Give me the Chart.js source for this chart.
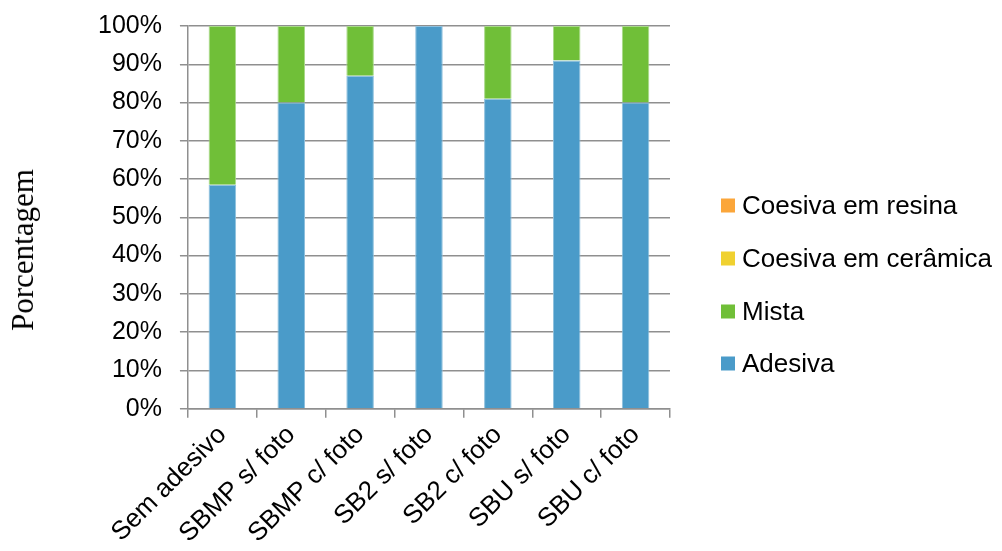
<!DOCTYPE html>
<html>
<head>
<meta charset="utf-8">
<script src="https://cdn.jsdelivr.net/npm/chart.js@4"></script>
<style>
  html, body { margin: 0; padding: 0; background: #fff; }
  #wrap { position: relative; width: 1002px; height: 551px; overflow: hidden; }
  #failure-chart { position: absolute; left: 0; top: -7px; }
  #y-title {
    position: absolute; left: 23px; top: 250px;
    transform: translate(-50%, -50%) rotate(-90deg);
    font-family: "Liberation Serif", serif; font-size: 31px; color: #000;
    white-space: nowrap;
  }
  #legend { position: absolute; left: 721px; top: 0; margin: 0; padding: 0; list-style: none;
    font-family: "Liberation Sans", Arial, sans-serif; font-size: 26px; color: #000; }
  #legend li { position: absolute; left: 0; white-space: nowrap; display: flex; align-items: center; transform: translateY(-50%); }
  #legend span.box { display: inline-block; width: 14px; height: 14px; margin-right: 7px; }
</style>
</head>
<body>
<div id="wrap">
  <canvas id="failure-chart" width="1002" height="558"></canvas>
  <div id="y-title">Porcentagem</div>
  <ul id="legend"></ul>
</div>
<script>
// Data
const groups = ['Sem adesivo', 'SBMP s/ foto', 'SBMP c/ foto', 'SB2 s/ foto', 'SB2 c/ foto', 'SBU s/ foto', 'SBU c/ foto'];
const adesiva = [58.5, 80, 87, 100, 81, 91, 80];
const mista = [41.5, 20, 13, 0, 19, 9, 20];
const coesivaCeramica = [0, 0, 0, 0, 0, 0, 0];
const coesivaResina = [0, 0, 0, 0, 0, 0, 0];
const yTicks = [0, 10, 20, 30, 40, 50, 60, 70, 80, 90, 100];

const font = { family: '"Liberation Sans", Arial, sans-serif', size: 25 };
const xFont = { family: '"Liberation Sans", Arial, sans-serif', size: 26 };
const gridGray = '#8f8f8f';

const ctx = document.getElementById('failure-chart').getContext('2d');

const failureChart = new Chart(ctx, {
  type: 'bar',
  data: {
    labels: groups,
    datasets: [
      { label: 'Adesiva', data: adesiva, backgroundColor: '#4a9bc9', borderColor: '#8ec0dd', borderWidth: 1 },
      { label: 'Mista', data: mista, backgroundColor: '#70bf38', borderColor: '#a9d98a', borderWidth: 1 },
      { label: 'Coesiva em cerâmica', data: coesivaCeramica, backgroundColor: '#f0d130', borderWidth: 0 },
      { label: 'Coesiva em resina', data: coesivaResina, backgroundColor: '#fba63a', borderWidth: 0 }
    ]
  },
  options: {
    responsive: false,
    animation: false,
    layout: { padding: { left: 80, top: 4, right: 332, bottom: 0 } },
    datasets: { bar: { barPercentage: 0.4, categoryPercentage: 1 } },
    scales: {
      x: {
        stacked: true,
        grid: { offset: true, drawOnChartArea: false, color: gridGray, lineWidth: 1.5, tickLength: 9 },
        border: { color: gridGray, width: 1.5 },
        ticks: { color: '#000', font: xFont, maxRotation: 45, minRotation: 45, padding: 2 }
      },
      y: {
        stacked: true,
        min: 0,
        max: 100,
        afterBuildTicks: axis => { axis.ticks = yTicks.map(v => ({ value: v })); },
        grid: { color: gridGray, lineWidth: 1.5, tickLength: 8 },
        border: { color: gridGray, width: 1.5 },
        ticks: { color: '#000', font: font, padding: 18, callback: v => v + '%' }
      }
    },
    plugins: {
      legend: { display: false },
      tooltip: { enabled: false }
    }
  }
});

// legend, top to bottom in reverse stacking order
const legendRows = [205, 258, 311, 363];
const legendBox = document.getElementById('legend');
failureChart.data.datasets.slice().reverse().forEach((ds, i) => {
  const li = document.createElement('li');
  li.style.top = legendRows[i] + 'px';
  li.innerHTML = '<span class="box" style="background:' + ds.backgroundColor + '"></span>' + ds.label;
  legendBox.appendChild(li);
});
</script>
</body>
</html>
